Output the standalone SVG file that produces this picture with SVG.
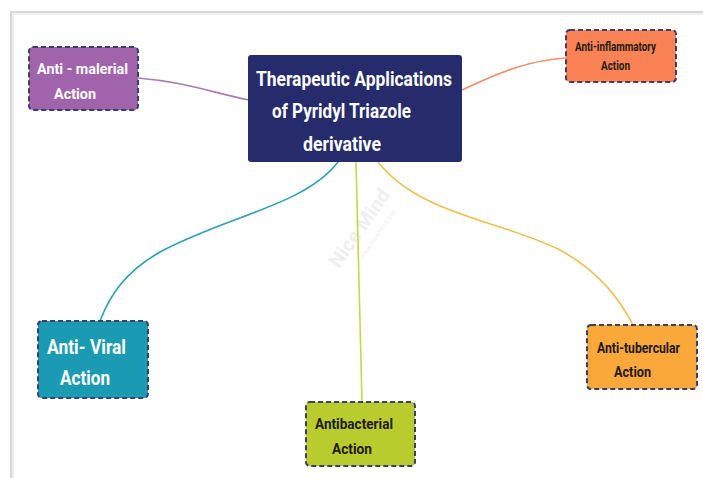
<svg xmlns="http://www.w3.org/2000/svg" width="703" height="478" viewBox="0 0 703 478">
<defs>
<style>
.box{stroke:#3b3d6b;stroke-width:2;stroke-dasharray:5 3}
.wt{fill:#ffffff;font-family:Roboto,"Liberation Sans",sans-serif;font-weight:bold}
.dt{fill:#231a14;font-family:Roboto,"Liberation Sans",sans-serif;font-weight:bold}
.ln{fill:none;stroke-width:1.6}
</style>
</defs>
<rect width="703" height="478" fill="#ffffff"/>
<path d="M703 12 H11 V478" fill="none" stroke="#d9d9d9" stroke-width="2"/>
<path d="M703 14 H13 V478" fill="none" stroke="#efefef" stroke-width="2"/>
<g id="watermark" opacity="0.13" transform="rotate(-55 365 232)">
<text x="365" y="232" font-family="Roboto,'Liberation Sans',sans-serif" font-weight="bold" font-size="20" fill="#888" text-anchor="middle">Nice Mind</text>
<text x="370" y="246" font-family="Roboto,'Liberation Sans',sans-serif" font-size="7" fill="#888" text-anchor="middle">www.nicemind.top</text>
</g>
<g id="connectors">
<path class="ln" stroke="#a77cb6" d="M138 78 C185 82 210 92 249 100"/>
<path class="ln" stroke="#ef9068" d="M462 90 C500 72 530 60 566 58"/>
<path class="ln" stroke="#2aa0b8" d="M338 162 C305 205 230 215 160 252 C125 272 110 295 100 321"/>
<path class="ln" stroke="#c5d84a" d="M356 162 L362 402"/>
<path class="ln" stroke="#f0bf50" d="M378 162 C420 215 500 220 560 250 C600 272 620 300 633 325"/>
</g>
<g id="center">
<rect x="248" y="55" width="214" height="107" rx="3" fill="#262b6c"/>
<text class="wt" x="256" y="86" font-size="21" textLength="196" lengthAdjust="spacingAndGlyphs">Therapeutic Applications</text>
<text class="wt" x="272" y="118" font-size="21" textLength="139" lengthAdjust="spacingAndGlyphs">of Pyridyl Triazole</text>
<text class="wt" x="303" y="151" font-size="21" textLength="78" lengthAdjust="spacingAndGlyphs">derivative</text>
</g>
<g id="anti-malerial">
<rect class="box" x="29" y="47" width="109" height="63" rx="4" fill="#a263ad"/>
<text class="wt" x="37" y="74" font-size="15.5" textLength="91" lengthAdjust="spacingAndGlyphs">Anti - malerial</text>
<text class="wt" x="54" y="99" font-size="15.5" textLength="42" lengthAdjust="spacingAndGlyphs">Action</text>
</g>
<g id="anti-inflammatory">
<rect class="box" x="566" y="30" width="110" height="52" rx="4" fill="#fa8254"/>
<text class="dt" x="575" y="51" font-size="12" textLength="81" lengthAdjust="spacingAndGlyphs">Anti-inflammatory</text>
<text class="dt" x="601" y="70" font-size="12" textLength="29" lengthAdjust="spacingAndGlyphs">Action</text>
</g>
<g id="anti-viral">
<rect class="box" x="38" y="321" width="110" height="77" rx="4" fill="#1a9bb3"/>
<text class="wt" x="47" y="354" font-size="21" textLength="79" lengthAdjust="spacingAndGlyphs">Anti- Viral</text>
<text class="wt" x="60" y="385" font-size="21" textLength="50" lengthAdjust="spacingAndGlyphs">Action</text>
</g>
<g id="antibacterial">
<rect class="box" x="306" y="402" width="109" height="64" rx="4" fill="#b8cc2d"/>
<text class="dt" x="315" y="429" font-size="15.5" textLength="78" lengthAdjust="spacingAndGlyphs">Antibacterial</text>
<text class="dt" x="332" y="454" font-size="15.5" textLength="40" lengthAdjust="spacingAndGlyphs">Action</text>
</g>
<g id="anti-tubercular">
<rect class="box" x="587" y="325" width="110" height="64" rx="4" fill="#fba83b"/>
<text class="dt" x="597" y="353" font-size="14.5" textLength="83" lengthAdjust="spacingAndGlyphs">Anti-tubercular</text>
<text class="dt" x="614" y="377" font-size="14.5" textLength="37" lengthAdjust="spacingAndGlyphs">Action</text>
</g>
</svg>
